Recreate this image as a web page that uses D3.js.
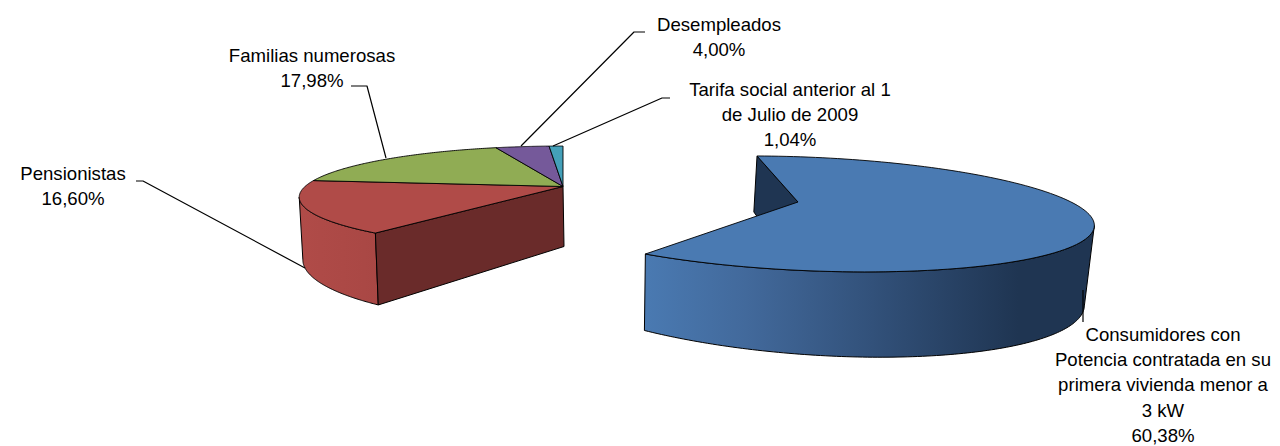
<!DOCTYPE html>
<html><head><meta charset="utf-8">
<script src="https://cdn.jsdelivr.net/npm/d3@7"></script>
<style>html,body{margin:0;background:#fff}svg{display:block}text{font-family:"Liberation Sans",Arial,sans-serif;font-size:18.6px;fill:#000}</style>
</head><body><svg id="c" width="1280" height="446"></svg>
<script>
const categories = ["Consumidores con Potencia contratada en su primera vivienda menor a 3 kW","Pensionistas","Familias numerosas","Desempleados","Tarifa social anterior al 1 de Julio de 2009"];
const shares = [60.38,16.60,17.98,4.00,1.04];
const shareLabels = ["60,38%","16,60%","17,98%","4,00%","1,04%"];
const topColors = ["#4a7ab2","#b04b48","#90ac54","#75599a","#44a0b9"];

const labelLines = [
 {lines:["Consumidores con","Potencia contratada en su","primera vivienda menor a","3 kW"],x:1163,y:341,leader:[[1083,290],[1083,322]]},
 {lines:["Pensionistas"],x:73,y:180,leader:[[305,268],[143,181],[136,181]]},
 {lines:["Familias numerosas"],x:312,y:62,leader:[[386,158],[367,86],[351,86]]},
 {lines:["Desempleados"],x:719,y:31,leader:[[521,146],[634,32],[645,32]]},
 {lines:["Tarifa social anterior al 1","de Julio de 2009"],x:790,y:96,leader:[[553,146],[662,98],[670,98]]}
];

const svg = d3.select("#c");
const arcs = d3.pie().sort(null).value(d=>d)(shares);

// perspective maps of the unit disc, one for the exploded slice and one for the rest
function makeProj(p){
  const top = t=>{
    const u=Math.sin(t), v=-Math.cos(t), w=1-p.k*v;
    return [p.cx+(p.a*u+p.b*v)/w, p.cy+(p.c*u+p.d*v)/w, u, w];
  };
  const bot = t=>{
    const [x,y,u,w]=top(t);
    return [p.cx+p.sx*(x-p.cx)+p.ox, y+p.D/w+p.e*u];
  };
  return {top, bot, apex:[p.cx,p.cy], apexB:[p.cx+p.ox, p.cy+p.D+0]};
}
const blue = makeProj({cx:798,cy:202,a:275,b:49.4,c:1,d:55.5,k:.206,sx:.98,ox:-4,D:67.5,e:7});
const rest = makeProj({cx:563,cy:186.5,a:258,b:0,c:0,d:48.9,k:.208,sx:.99,ox:1,D:60,e:0});

const samples=(a0,a1,f)=>d3.range(0,121).map(i=>f(a0+(a1-a0)*i/120).slice(0,2));
const line=d3.line();
const path=(pts,closed=true)=>line(pts)+(closed?"Z":"");

const defs=svg.append("defs");
const g1=defs.append("linearGradient").attr("id","gb").attr("gradientUnits","userSpaceOnUse").attr("x1",643).attr("x2",1060).attr("y1",0).attr("y2",0);
[[0,"#4a7ab2"],[.25,"#42699b"],[.55,"#32517a"],[.9,"#1f3552"],[1,"#1f3552"]].forEach(s=>g1.append("stop").attr("offset",s[0]).attr("stop-color",s[1]));
const g2=defs.append("linearGradient").attr("id","gr").attr("gradientUnits","userSpaceOnUse").attr("x1",300).attr("x2",380).attr("y1",0).attr("y2",0);
[[0,"#b04b48"],[.8,"#aa4845"],[1,"#a84744"]].forEach(s=>g2.append("stop").attr("offset",s[0]).attr("stop-color",s[1]));

const stroke=(sel,w=1)=>sel.attr("stroke","#000").attr("stroke-width",w).attr("stroke-linejoin","round");

// rest of the pie: sides first
const red=arcs[1];
const silL=d3.greatest(d3.range(red.startAngle,red.endAngle,.005),t=>-rest.top(t)[0]);
stroke(svg.append("path").attr("d",path([...samples(red.startAngle,silL,rest.top),...samples(silL,red.startAngle,rest.bot)])).attr("fill","url(#gr)"));
stroke(svg.append("path").attr("d",path([rest.apex,rest.top(red.startAngle),rest.bot(red.startAngle),rest.apexB])).attr("fill","#6a2b2a"));
arcs.slice(1).forEach((d,i)=>{
  stroke(svg.append("path").attr("d",path([rest.apex,...samples(d.startAngle,d.endAngle,rest.top)])).attr("fill",topColors[i+1]),.9);
});

// exploded slice
const b=arcs[0];
stroke(svg.append("path").attr("d",path([blue.top(b.startAngle),blue.apex,blue.apexB,blue.bot(b.startAngle)])).attr("fill","#1f3552"));
const silR=d3.greatest(d3.range(b.startAngle,b.endAngle,.005),t=>blue.top(t)[0]);
stroke(svg.append("path").attr("d",path([...samples(silR,b.endAngle,blue.top),...samples(b.endAngle,silR,blue.bot)])).attr("fill","url(#gb)"));
stroke(svg.append("path").attr("d",path([blue.apex,...samples(b.startAngle,b.endAngle,blue.top)])).attr("fill",topColors[0]),.9);

// labels
const lh=25.2;
labelLines.forEach((l,i)=>{
  stroke(svg.append("path").attr("d",path(l.leader,false)).attr("fill","none"),1.2);
  const t=svg.append("text").attr("text-anchor","middle").attr("x",l.x).attr("y",l.y);
  [...l.lines,shareLabels[i]].forEach((s,j)=>t.append("tspan").attr("x",l.x).attr("y",l.y+j*lh).text(s));
});
</script></body></html>
